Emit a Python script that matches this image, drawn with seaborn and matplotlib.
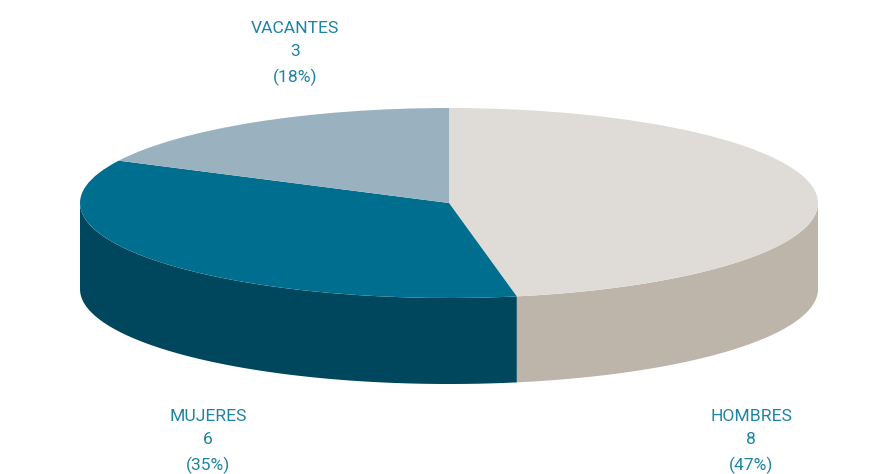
import numpy as np
import seaborn as sns
import matplotlib.pyplot as plt
from matplotlib.patches import Polygon
from matplotlib.transforms import Affine2D

# datos
categorias = ["HOMBRES", "MUJERES", "VACANTES"]
valores = [8, 6, 3]
porcentajes = ["47%", "35%", "18%"]

colores_top = ["#dfdcd7", "#006f8f", "#9ab2bf"]
colores_lado = ["#bdb4aa", "#00465d", "#7d97a5"]
color_texto = "#1f84a3"

sns.set_theme(style="white")
plt.rcParams["font.family"] = ["Roboto", "DejaVu Sans"]

W, H = 875, 474
fig, ax = plt.subplots(figsize=(W / 100, H / 100), dpi=100)
fig.subplots_adjust(0, 0, 1, 1)

# unidades en pixeles de la imagen para mantener la elipse
cx, cy = 449, 203
rx, ry = 369, 95
depth = 86

# pie plano, luego lo aplasto con una transformacion
wedges, _ = ax.pie(
    valores,
    colors=colores_top,
    startangle=90,
    counterclock=False,
    wedgeprops={"linewidth": 0},
)
ax.set_aspect("auto")
ax.set_xlim(0, W)
ax.set_ylim(H, 0)
ax.axis("off")

trans = Affine2D().scale(rx, -ry).translate(cx, cy) + ax.transData
for w in wedges:
    w.set_transform(trans)
    w.set_zorder(3)

# pared lateral: solo la parte frontal de la elipse
fracs = np.array(valores) / sum(valores)
ang = 90 - np.concatenate([[0], np.cumsum(fracs)]) * 360
for i in range(len(valores)):
    t = np.radians(np.linspace(ang[i + 1], ang[i], 400))
    s = np.sin(t) <= 0
    if not s.any():
        continue
    x = cx + rx * np.cos(t[s])
    y = cy - ry * np.sin(t[s])
    pts = np.vstack([np.c_[x, y], np.c_[x[::-1], y[::-1] + depth]])
    ax.add_patch(Polygon(pts, closed=True, fc=colores_lado[i], ec="none", zorder=2))

# etiquetas
pos_labels = [(751, 441.5), (208, 441.5), (295, 53.5)]
for nombre, v, p, (px, py) in zip(categorias, valores, porcentajes, pos_labels):
    ax.text(px, py, f"{nombre}\n{v}\n({p})", ha="center", va="center",
            color=color_texto, fontsize=12.6, linespacing=1.72, zorder=5)

fig.savefig("out.png", dpi=100, facecolor="white")
